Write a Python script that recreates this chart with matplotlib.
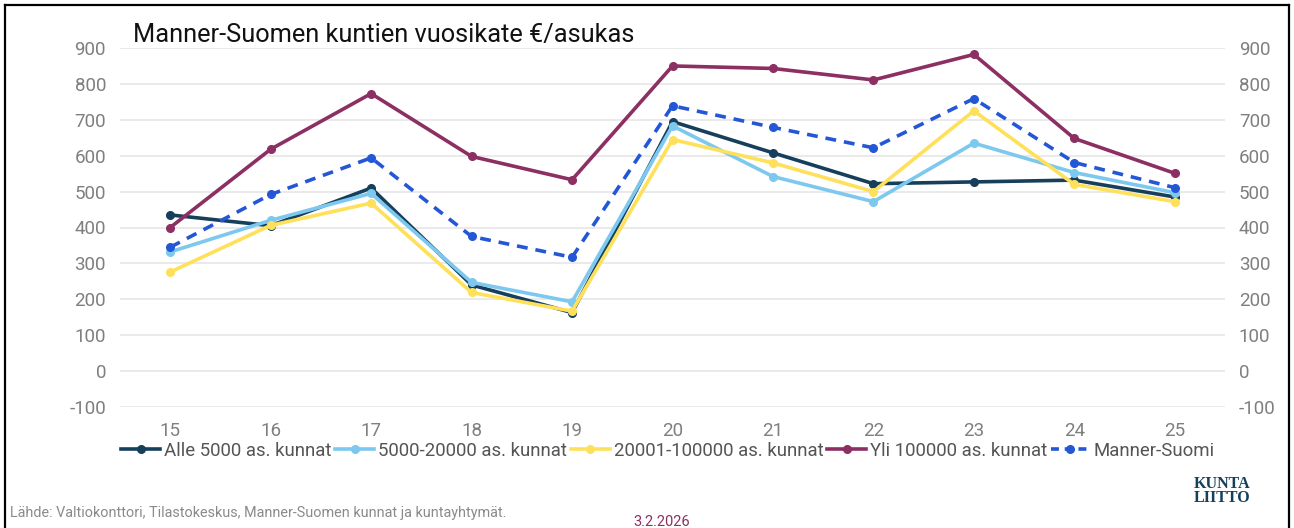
import matplotlib.pyplot as plt
from matplotlib.lines import Line2D

plt.rcParams['font.family'] = ['Roboto', 'DejaVu Sans']
plt.rcParams['axes.unicode_minus'] = False

# Data
years = [15, 16, 17, 18, 19, 20, 21, 22, 23, 24, 25]
alle_5000 = [435, 405, 510, 240, 163, 695, 608, 522, 527, 532, 485]
v5000_20000 = [332, 420, 495, 247, 193, 683, 542, 472, 635, 553, 497]
v20001_100000 = [276, 406, 468, 219, 167, 645, 580, 500, 725, 520, 472]
yli_100000 = [400, 618, 773, 598, 533, 850, 843, 811, 882, 648, 551]
manner_suomi = [345, 492, 594, 375, 317, 739, 679, 622, 759, 581, 511]
yticks = [-100, 0, 100, 200, 300, 400, 500, 600, 700, 800, 900]

series = [
    ('Alle 5000 as. kunnat', alle_5000, '#163f5c', '-'),
    ('5000-20000 as. kunnat', v5000_20000, '#7dc8ef', '-'),
    ('20001-100000 as. kunnat', v20001_100000, '#ffe05a', '-'),
    ('Yli 100000 as. kunnat', yli_100000, '#8c2f63', '-'),
    ('Manner-Suomi', manner_suomi, '#2457d6', '--'),
]

fig = plt.figure(figsize=(12.94, 5.28), dpi=100)
W, H = 1294, 528
ax = fig.add_axes([120 / W, 1 - 407 / H, (1225 - 120) / W, (407 - 48) / H])

for label, vals, color, ls in series:
    ax.plot(years, vals, color=color, linestyle=ls, linewidth=2.6,
            marker='o', markersize=5.5, label=label,
            dashes=(3, 2.2) if ls == '--' else (None, None))

ax.set_xlim(14.5, 25.5)
ax.set_ylim(-100, 900)
ax.set_yticks(yticks)
ax.set_xticks(years)
ax.yaxis.grid(True, color='#e6e6e6', linewidth=1.2)
ax.set_axisbelow(True)
for s in ax.spines.values():
    s.set_visible(False)
ax.tick_params(axis='both', length=0, labelsize=13.5, labelcolor='#7f7f7f')
ax.tick_params(axis='y', pad=10)
ax.tick_params(axis='x', pad=11)

ax2 = ax.twinx()
ax2.set_ylim(-100, 900)
ax2.set_yticks(yticks)
for s in ax2.spines.values():
    s.set_visible(False)
ax2.tick_params(axis='y', length=0, labelsize=13.5, labelcolor='#7f7f7f', pad=10)

# Title
fig.text(133 / W, 1 - 35 / H, 'Manner-Suomen kuntien vuosikate €/asukas',
         fontsize=18.3, color='#111111', va='center', ha='left')

# Legend
handles = [Line2D([0], [0], color=c, linestyle=ls, linewidth=2.6, marker='o',
                  markersize=5.5, dashes=(2.2, 1.6) if ls == '--' else (None, None))
           for _, _, c, ls in series]
labels = [s[0] for s in series]
fig.legend(handles, labels, loc='center', bbox_to_anchor=(668 / W, 1 - 451 / H),
           ncol=5, frameon=False, fontsize=13.4, handlelength=2.1,
           handletextpad=0.2, columnspacing=0.2, labelcolor='#555555')

# Footer texts
fig.text(10 / W, 1 - 513 / H,
         'Lähde: Valtiokonttori, Tilastokeskus, Manner-Suomen kunnat ja kuntayhtymät.',
         fontsize=10.4, color='#8a8a8a', va='center', ha='left')
fig.text(662 / W, 1 - 522 / H, '3.2.2026', fontsize=10.5, color='#8c2f63',
         va='center', ha='center')
fig.text(1222 / W, 1 - 491 / H, 'KUNTA\nLIITTO', fontsize=11.5, color='#163f5c',
         family='Liberation Serif', fontweight='bold', va='center', ha='center',
         linespacing=0.8)

# Outer frame (open at the bottom)
frame_kw = dict(color='black', linewidth=1.6, transform=fig.transFigure)
fig.add_artist(Line2D([5 / W, 5 / W], [0, 1 - 5 / H], **frame_kw))
fig.add_artist(Line2D([1289 / W, 1289 / W], [0, 1 - 5 / H], **frame_kw))
fig.add_artist(Line2D([5 / W, 1289 / W], [1 - 5 / H, 1 - 5 / H], **frame_kw))

fig.savefig('out.png', dpi=100, facecolor='white')
